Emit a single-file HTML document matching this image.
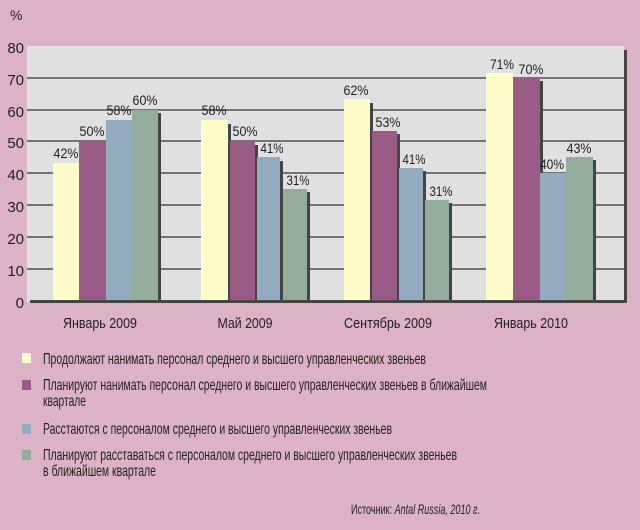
<!DOCTYPE html>
<html><head><meta charset="utf-8"><style>
body{margin:0;width:640px;height:525px;background:#dcb3c6;overflow:hidden}
text{font-family:"Liberation Sans",sans-serif;fill:#222}
</style></head><body>
<svg width="640" height="525" xmlns="http://www.w3.org/2000/svg">
<rect x="27" y="46" width="597" height="256" fill="#e0e0e0"/>
<rect x="624" y="50" width="3" height="253" fill="#444"/>
<g stroke="#333" stroke-width="1.2">
<line x1="27" y1="78" x2="624" y2="78"/><line x1="27" y1="110" x2="624" y2="110"/>
<line x1="27" y1="141" x2="624" y2="141"/><line x1="27" y1="173" x2="624" y2="173"/>
<line x1="27" y1="205" x2="624" y2="205"/><line x1="27" y1="237" x2="624" y2="237"/>
<line x1="27" y1="269" x2="624" y2="269"/>
</g>
<g font-size="15" text-anchor="end">
<text x="24" y="53">80</text><text x="24" y="85">70</text><text x="24" y="117">60</text>
<text x="24" y="148">50</text><text x="24" y="180">40</text><text x="24" y="212">30</text>
<text x="24" y="244">20</text><text x="24" y="276">10</text><text x="24" y="308">0</text>
</g>
<text x="10" y="20" font-size="14">%</text>
<g fill="#444">
<rect x="158" y="113" width="3" height="190"/>
<rect x="228" y="124" width="3" height="179"/><rect x="255" y="145" width="3" height="158"/><rect x="280" y="161" width="3" height="142"/><rect x="307" y="192" width="3" height="111"/>
<rect x="370" y="103" width="3" height="200"/><rect x="397" y="134" width="3" height="169"/><rect x="423" y="171" width="3" height="132"/><rect x="449" y="203" width="3" height="100"/>
<rect x="540" y="81" width="3" height="222"/><rect x="593" y="160" width="3" height="143"/>
</g>
<rect x="53" y="163" width="26" height="139" fill="#fefcc8"/>
<rect x="79" y="141" width="27" height="161" fill="#9a5c86"/>
<rect x="106" y="120" width="26" height="182" fill="#93abbe"/>
<rect x="132" y="110" width="26" height="192" fill="#93ac9c"/>
<rect x="201" y="120" width="27" height="182" fill="#fefcc8"/>
<rect x="230" y="141" width="25" height="161" fill="#9a5c86"/>
<rect x="257" y="157" width="23" height="145" fill="#93abbe"/>
<rect x="283" y="189" width="24" height="113" fill="#93ac9c"/>
<rect x="344" y="99" width="26" height="203" fill="#fefcc8"/>
<rect x="372" y="131" width="25" height="171" fill="#9a5c86"/>
<rect x="399" y="168" width="24" height="134" fill="#93abbe"/>
<rect x="425" y="200" width="24" height="102" fill="#93ac9c"/>
<rect x="486" y="73" width="27" height="229" fill="#fefcc8"/>
<rect x="513" y="78" width="27" height="224" fill="#9a5c86"/>
<rect x="540" y="173" width="26" height="129" fill="#93abbe"/>
<rect x="566" y="157" width="27" height="145" fill="#93ac9c"/>
<rect x="30" y="300" width="597" height="3" fill="#444"/>
<g font-size="14" text-anchor="middle">
<text x="66" y="158" textLength="25" lengthAdjust="spacingAndGlyphs">42%</text><text x="92" y="136" textLength="25" lengthAdjust="spacingAndGlyphs">50%</text><text x="119" y="115" textLength="25" lengthAdjust="spacingAndGlyphs">58%</text><text x="145" y="105" textLength="25" lengthAdjust="spacingAndGlyphs">60%</text>
<text x="214" y="115" textLength="25" lengthAdjust="spacingAndGlyphs">58%</text><text x="245" y="136" textLength="25" lengthAdjust="spacingAndGlyphs">50%</text><text x="272" y="153" textLength="23" lengthAdjust="spacingAndGlyphs">41%</text><text x="298" y="185" textLength="23" lengthAdjust="spacingAndGlyphs">31%</text>
<text x="356" y="95" textLength="25" lengthAdjust="spacingAndGlyphs">62%</text><text x="388" y="127" textLength="25" lengthAdjust="spacingAndGlyphs">53%</text><text x="414" y="164" textLength="23" lengthAdjust="spacingAndGlyphs">41%</text><text x="441" y="196" textLength="23" lengthAdjust="spacingAndGlyphs">31%</text>
<text x="502" y="69" textLength="24" lengthAdjust="spacingAndGlyphs">71%</text><text x="531" y="74" textLength="25" lengthAdjust="spacingAndGlyphs">70%</text><text x="552" y="169" textLength="24" lengthAdjust="spacingAndGlyphs">40%</text><text x="579" y="153" textLength="25" lengthAdjust="spacingAndGlyphs">43%</text>
</g>
<g font-size="15" text-anchor="middle">
<text x="100" y="328" textLength="74" lengthAdjust="spacingAndGlyphs">Январь 2009</text><text x="245" y="328" textLength="55" lengthAdjust="spacingAndGlyphs">Май 2009</text>
<text x="388" y="328" textLength="88" lengthAdjust="spacingAndGlyphs">Сентябрь 2009</text><text x="531" y="328" textLength="74" lengthAdjust="spacingAndGlyphs">Январь 2010</text>
</g>
<rect x="22" y="353" width="9" height="10" fill="#fefcc8"/>
<rect x="22" y="380" width="9" height="10" fill="#9a5c86"/>
<rect x="22" y="424" width="9" height="10" fill="#93abbe"/>
<rect x="22" y="450" width="9" height="10" fill="#93ac9c"/>
<g font-size="16">
<text x="43" y="364" textLength="383" lengthAdjust="spacingAndGlyphs">Продолжают нанимать персонал среднего и высшего управленческих звеньев</text>
<text x="43" y="390" textLength="444" lengthAdjust="spacingAndGlyphs">Планируют нанимать персонал среднего и высшего управленческих звеньев в ближайшем</text>
<text x="43" y="406" textLength="43" lengthAdjust="spacingAndGlyphs">квартале</text>
<text x="43" y="434" textLength="349" lengthAdjust="spacingAndGlyphs">Расстаются с персоналом среднего и высшего управленческих звеньев</text>
<text x="43" y="460" textLength="414" lengthAdjust="spacingAndGlyphs">Планируют расставаться с персоналом среднего и высшего управленческих звеньев</text>
<text x="43" y="476" textLength="113" lengthAdjust="spacingAndGlyphs">в ближайшем квартале</text>
</g>
<text x="351" y="514" font-size="14" textLength="129" lengthAdjust="spacingAndGlyphs">Источник: <tspan font-style="italic">Antal Russia, 2010 г.</tspan></text>
</svg>
</body></html>
